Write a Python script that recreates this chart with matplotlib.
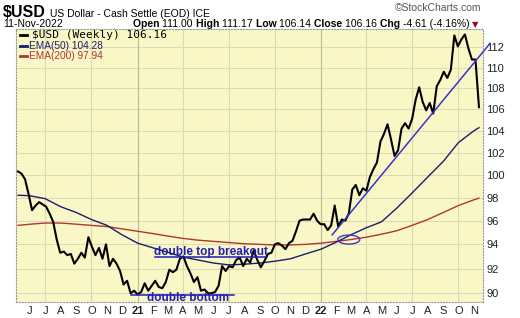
import numpy as np
import pandas as pd
import matplotlib
matplotlib.use('Agg')
import matplotlib.pyplot as plt
import matplotlib.dates as mdates
from matplotlib.patches import Ellipse
from matplotlib.transforms import ScaledTranslation
from matplotlib.ticker import NullLocator

plt.rcParams['font.family'] = ['Liberation Sans', 'DejaVu Sans']

# ---------------- data ----------------
first_week = '2020-05-08'
usd_weekly = [
    100.3, 100.1, 99.6, 98.3, 96.9, 97.3, 97.6, 97.4, 97.2, 96.6, 95.9, 94.4, 93.3,
    93.4, 93.1, 93.2, 92.4, 92.8, 93.3, 92.9, 94.6, 93.8, 93.1, 93.7, 92.8, 94.0,
    92.2, 92.8, 92.4, 91.8, 90.7, 91.0, 90.0, 90.2,
    89.9, 90.1, 90.8, 90.2, 90.6, 91.0, 90.5, 90.4, 90.9, 91.9, 91.7, 91.9, 92.8,
    93.0, 92.2, 91.6, 90.9, 91.3, 90.2, 90.3, 90.0, 90.0, 90.1, 90.6, 92.2, 91.8,
    92.2, 92.1, 92.7, 92.9, 92.2, 92.8, 92.5, 93.5, 92.7, 92.1, 92.6, 93.2, 93.3,
    94.0, 94.1, 93.9, 93.6, 94.1, 94.3, 95.1, 96.0, 96.1, 96.1, 96.1, 96.6, 96.0, 95.7,
    95.7, 95.2, 95.6, 97.3, 95.5, 96.1, 96.0, 96.6, 98.7, 99.1, 98.2, 98.8,
    98.6, 99.8, 100.5, 101.1, 103.0, 103.7, 104.6, 103.2, 101.7, 102.2, 104.2, 104.7,
    104.2, 105.1, 106.9, 108.1, 106.7, 105.9, 106.6, 105.6, 108.2, 108.8, 109.6, 109.0,
    109.8, 113.2, 112.1, 112.8, 113.3, 111.9, 110.8, 110.8, 106.2,
]

ema_dates = ['2020-05-08', '2020-06-01', '2020-07-01', '2020-08-01', '2020-09-01',
             '2020-10-01', '2020-11-01', '2020-12-01', '2021-01-01', '2021-02-01',
             '2021-03-01', '2021-04-01', '2021-05-01', '2021-06-01', '2021-07-01',
             '2021-08-01', '2021-09-01', '2021-10-01', '2021-11-01', '2021-12-01',
             '2022-01-01', '2022-02-01', '2022-03-01', '2022-04-01', '2022-05-01',
             '2022-06-01', '2022-07-01', '2022-08-01', '2022-09-01', '2022-10-01',
             '2022-11-01', '2022-11-11']
ema50 = [98.2, 98.15, 97.9, 97.2, 96.7, 96.1, 95.6, 94.8, 94.1, 93.7,
         93.35, 92.95, 92.7, 92.45, 92.3, 92.35, 92.45, 92.6, 92.8, 93.2,
         93.6, 94.2, 94.8, 95.4, 95.9, 97.1, 98.4, 99.8, 101.2, 102.9,
         104.0, 104.28]
ema200 = [95.6, 95.7, 95.8, 95.8, 95.7, 95.6, 95.5, 95.3, 95.1, 94.9,
          94.7, 94.5, 94.35, 94.25, 94.15, 94.05, 94.0, 93.95, 93.95, 94.0,
          94.1, 94.25, 94.4, 94.6, 94.85, 95.15, 95.6, 96.1, 96.7, 97.3,
          97.8, 97.94]

y_ticks = [90, 92, 94, 96, 98, 100, 102, 104, 106, 108, 110, 112]
month_starts = pd.date_range('2020-06-01', '2022-11-01', freq='MS')
month_labels = ['J', 'J', 'A', 'S', 'O', 'N', 'D', '21', 'F', 'M', 'A', 'M', 'J', 'J', 'A',
                'S', 'O', 'N', 'D', '22', 'F', 'M', 'A', 'M', 'J', 'J', 'A', 'S', 'O', 'N']
quarter_lines = ['2020-07-01', '2020-10-01', '2021-01-01', '2021-04-01', '2021-07-01',
                 '2021-10-01', '2022-01-01', '2022-04-01', '2022-07-01', '2022-10-01']
year_lines = ['2021-01-01', '2022-01-01']

trend_dates = ['2022-01-23', '2022-12-03']
trend_values = [94.8, 112.4]
dbl_bottom_dates = ['2020-12-19', '2021-07-11']
dbl_bottom_values = [89.87, 89.87]
dbl_top_dates = ['2021-02-04', '2021-09-16']
dbl_top_values = [92.95, 92.95]
cross_date, cross_value = '2022-02-25', 94.4

weeks = pd.date_range(first_week, periods=len(usd_weekly), freq='W-FRI')
ema_x = pd.to_datetime(ema_dates)

# ---------------- figure ----------------
W, H = 520, 318
fig = plt.figure(figsize=(W / 100, H / 100), dpi=100)
fig.patch.set_facecolor('white')
ax = fig.add_axes([16 / W, 16 / H, 467 / W, 273 / H])
ax.set_facecolor('#faf7c6')
ax.set_yscale('log')
ax.set_xlim(pd.Timestamp('2020-05-04'), pd.Timestamp('2022-11-19'))
ax.set_ylim(89.3, 113.85)

# grid
for v in y_ticks:
    ax.axhline(v, color='#d9d9b8', lw=0.7, zorder=0)
for d in quarter_lines:
    col = '#b9bb90' if d in year_lines else '#d9d9b8'
    ax.axvline(pd.Timestamp(d), color=col, lw=0.8, zorder=0)

# series
ax.plot(ema_x, ema200, color='#b03535', lw=1.0, zorder=2)
ax.plot(ema_x, ema50, color='#1c1c6e', lw=1.0, zorder=2)
ax.plot(weeks, usd_weekly, color='black', lw=1.5, zorder=3)

# annotations
ax.plot(pd.to_datetime(trend_dates), trend_values, color='#3535c8', lw=1.1,
        zorder=4, clip_on=False)
ax.plot(pd.to_datetime(dbl_bottom_dates), dbl_bottom_values, color='#1e1eb0', lw=1.1, zorder=4)
ax.plot(pd.to_datetime(dbl_top_dates), dbl_top_values, color='#1e1eb0', lw=1.1, zorder=4)
ax.text(pd.Timestamp('2021-04-11'), 89.6, 'double bottom', color='#2020b8',
        fontsize=8.5, fontweight='bold', ha='center', va='center', zorder=5)
ax.text(pd.Timestamp('2021-05-27'), 93.35, 'double top breakout', color='#2020b8',
        fontsize=8.5, fontweight='bold', ha='center', va='center', zorder=5)
cx, cy = ax.transData.transform((mdates.date2num(pd.Timestamp(cross_date)), cross_value))
trans = fig.dpi_scale_trans + ScaledTranslation(cx / 100, cy / 100, fig.dpi_scale_trans)
ax.add_patch(Ellipse((0, 0), 0.22, 0.09, transform=trans, fill=False,
                     edgecolor='#3a3ac8', lw=1.0, zorder=5, clip_on=False))

# axes styling
ax.yaxis.tick_right()
ax.set_yticks(y_ticks)
ax.set_yticklabels([str(v) for v in y_ticks])
ax.yaxis.set_minor_locator(NullLocator())
ax.set_xticks(month_starts)
ax.set_xticklabels(month_labels)
ax.xaxis.set_minor_locator(NullLocator())
for lab in ax.get_xticklabels():
    if lab.get_text() in ('21', '22'):
        lab.set_fontweight('bold')
ax.tick_params(axis='both', length=0, labelsize=8, colors='#222222')
ax.tick_params(axis='y', pad=2.5)
ax.tick_params(axis='x', pad=3)
for s in ax.spines.values():
    s.set_linestyle(':')
    s.set_color('#999999')
    s.set_linewidth(0.8)

# legend (inside top-left)
leg = [('$USD (Weekly) 106.16', 'black', 'DejaVu Sans Mono', 8, 35),
       ('EMA(50) 104.28', '#1c1c6e', 'Liberation Sans', 7.3, 46),
       ('EMA(200) 97.94', '#b03535', 'Liberation Sans', 7.3, 56)]
for i, (txt, col, fam, fs, ypx) in enumerate(leg):
    yf = 1 - ypx / H
    fig.add_artist(plt.Line2D([20 / W, 27 / W], [yf, yf], color=col, lw=2.0,
                              transform=fig.transFigure))
    xt = 32 / W if i == 0 else 29 / W
    fig.text(xt, yf, txt, color=col, fontsize=fs, family=fam, va='center', ha='left')

# header
fig.text(3 / W, 1 - 17 / H, '$USD', fontsize=11.5, fontweight='bold', va='baseline')
fig.text(50 / W, 1 - 17 / H, 'US Dollar - Cash Settle (EOD) ICE', fontsize=7.5, va='baseline')
fig.text(481 / W, 1 - 11 / H, '\u00a9StockCharts.com', fontsize=7.5, color='#555555',
         ha='right', va='baseline')
fig.text(3 / W, 1 - 27 / H, '11-Nov-2022', fontsize=7.5, va='baseline')

parts = [('Open ', 'bold', 'black'), ('111.00 ', 'normal', 'black'),
         ('High ', 'bold', 'black'), ('111.17 ', 'normal', 'black'),
         ('Low ', 'bold', 'black'), ('106.14 ', 'normal', 'black'),
         ('Close ', 'bold', 'black'), ('106.16 ', 'normal', 'black'),
         ('Chg ', 'bold', 'black'), ('-4.61 (-4.16%) ', 'normal', 'black')]
t = fig.text(133 / W, 1 - 27 / H, parts[0][0], fontsize=7.5, fontweight=parts[0][1],
             va='baseline')
for s, w, c in parts[1:]:
    t = ax.annotate(s, xy=(1, 0), xycoords=t, va='bottom', ha='left', fontsize=7.5,
                    fontweight=w, color=c, annotation_clip=False)
ax.annotate('\u25bc', xy=(1, 0), xycoords=t, va='bottom', ha='left', fontsize=6,
            color='#990033', family='DejaVu Sans', annotation_clip=False)

fig.savefig('out.png', dpi=100, facecolor='white')
